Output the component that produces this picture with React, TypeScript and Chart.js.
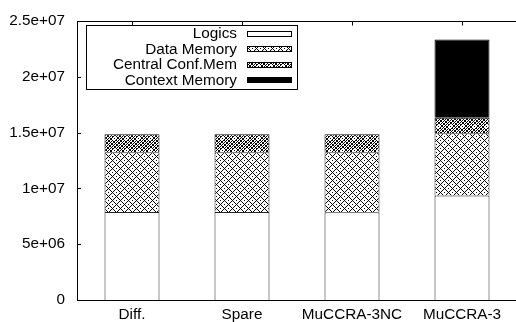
import React, { useEffect, useRef } from 'react';
import { Chart, registerables } from 'chart.js';

Chart.register(...registerables);

const categories = ['Diff.', 'Spare', 'MuCCRA-3NC', 'MuCCRA-3'];
const seriesLabels = ['Logics', 'Data Memory', 'Central Conf.Mem', 'Context Memory'];
const logics = [7.88e6, 7.88e6, 7.86e6, 9.36e6];
const dataMemory = [5.37e6, 5.37e6, 5.38e6, 5.59e6];
const centralConf = [1.62e6, 1.62e6, 1.62e6, 1.4e6];
const contextMemory = [0, 0, 0, 7.0e6];
const yTickValues = [0, 5e6, 1e7, 1.5e7, 2e7, 2.5e7];
const yTickLabels = ['0', '5e+06', '1e+07', '1.5e+07', '2e+07', '2.5e+07'];

const FONT = { family: '"Liberation Sans", Arial, Helvetica, sans-serif', size: 15.3 };

function makePattern(
  ctx: CanvasRenderingContext2D,
  size: number,
  fn: (x: number, y: number) => boolean
): CanvasPattern | string {
  const c = document.createElement('canvas');
  c.width = size;
  c.height = size;
  const g = c.getContext('2d');
  if (!g) return '#888';
  g.fillStyle = '#fff';
  g.fillRect(0, 0, size, size);
  g.fillStyle = '#000';
  for (let y = 0; y < size; y++) {
    for (let x = 0; x < size; x++) {
      if (fn(x, y)) g.fillRect(x, y, 1, 1);
    }
  }
  return ctx.createPattern(c, 'repeat') || '#888';
}

const framePlugin = {
  id: 'gnuFrame',
  afterDatasetsDraw(chart: any) {
    const { ctx, chartArea: a, scales } = chart;
    ctx.save();
    ctx.strokeStyle = '#000';
    ctx.lineWidth = 1;
    ctx.beginPath();
    const top = Math.round(a.top) + 0.5;
    ctx.moveTo(a.left, top);
    ctx.lineTo(a.right + 5, top);
    scales.y.ticks.forEach((t: any) => {
      const py = Math.round(scales.y.getPixelForValue(t.value)) + 0.5;
      if (py > a.top + 1 && py < a.bottom - 1) {
        ctx.moveTo(a.left, py);
        ctx.lineTo(a.left + 4, py);
      }
    });
    categories.forEach((_, i) => {
      const px = Math.round(scales.x.getPixelForValue(i)) + 0.5;
      ctx.moveTo(px, top);
      ctx.lineTo(px, top + 4);
    });
    ctx.stroke();

    const kx = a.left + 9;
    const ky = a.top + 3.5;
    ctx.strokeRect(Math.round(kx) + 0.5, Math.round(ky) + 0.5, 211, 64);
    ctx.font = `${FONT.size}px ${FONT.family}`;
    ctx.textAlign = 'right';
    ctx.textBaseline = 'middle';
    chart.data.datasets.forEach((ds: any, i: number) => {
      const ry = a.top + 12.5 + i * 15.5;
      ctx.fillStyle = '#000';
      ctx.fillText(ds.label, a.left + 160, ry + 0.5);
      const sx = Math.round(a.left + 170) + 0.5;
      const sy = Math.round(ry - 3) + 0.5;
      ctx.fillStyle = ds.backgroundColor;
      ctx.fillRect(sx, sy, 44, 5);
      ctx.strokeStyle = '#000';
      ctx.strokeRect(sx, sy, 44, 5);
    });
    ctx.restore();
  },
};

export default function App() {
  const canvasRef = useRef<HTMLCanvasElement | null>(null);

  useEffect(() => {
    const canvas = canvasRef.current;
    if (!canvas) return;
    const ctx = canvas.getContext('2d');
    if (!ctx) return;

    const dataPat = makePattern(
      ctx,
      8,
      (x, y) =>
        (x - y + 8) % 8 === 0 ||
        (x + y) % 8 === 0 ||
        (x === 4 && y === 0) ||
        (x === 0 && y === 4)
    );
    const centralPat = makePattern(ctx, 12, (x, y) => {
      const d = Math.abs(x - 6) + Math.abs(y - 6);
      if (d === 0) return true;
      if (d <= 2) return false;
      return (x + y) % 3 === 0 || (x - y + 12) % 4 === 0;
    });

    const common = { barPercentage: 0.5, categoryPercentage: 1, borderWidth: 1 };

    const chart = new Chart(ctx, {
      type: 'bar',
      data: {
        labels: categories,
        datasets: [
          { label: seriesLabels[0], data: logics, backgroundColor: '#ffffff', borderColor: '#222', ...common },
          { label: seriesLabels[1], data: dataMemory, backgroundColor: dataPat as any, borderColor: '#333', ...common },
          { label: seriesLabels[2], data: centralConf, backgroundColor: centralPat as any, borderColor: '#111', ...common },
          { label: seriesLabels[3], data: contextMemory, backgroundColor: '#000000', borderColor: '#000', ...common },
        ],
      },
      options: {
        animation: false,
        responsive: false,
        maintainAspectRatio: false,
        layout: { padding: { top: 17, right: 3, left: 0, bottom: 0 } },
        plugins: { legend: { display: false }, tooltip: { enabled: false } },
        scales: {
          x: {
            stacked: true,
            grid: { display: false, drawTicks: false },
            border: { display: true, color: '#000', width: 1 },
            ticks: { color: '#000', font: FONT, padding: 6, maxRotation: 0, autoSkip: false },
            afterFit: (s: any) => {
              s.height = 22;
            },
          },
          y: {
            stacked: true,
            min: 0,
            max: 2.5e7,
            grid: { display: false, drawTicks: false },
            border: { display: true, color: '#000', width: 1 },
            ticks: {
              stepSize: 5e6,
              color: '#000',
              font: FONT,
              padding: 12,
              callback: (v: any) => {
                const idx = yTickValues.indexOf(Number(v));
                return idx >= 0 ? yTickLabels[idx] : '';
              },
            },
            afterFit: (s: any) => {
              s.width = 77;
            },
          },
        },
      },
      plugins: [framePlugin],
    });

    return () => chart.destroy();
  }, []);

  return (
    <div
      style={{
        position: 'absolute',
        left: 0,
        top: 0,
        width: 516,
        height: 322,
        overflow: 'hidden',
        background: '#fff',
      }}
    >
      <canvas ref={canvasRef} width={520} height={322} style={{ display: 'block' }} />
    </div>
  );
}
